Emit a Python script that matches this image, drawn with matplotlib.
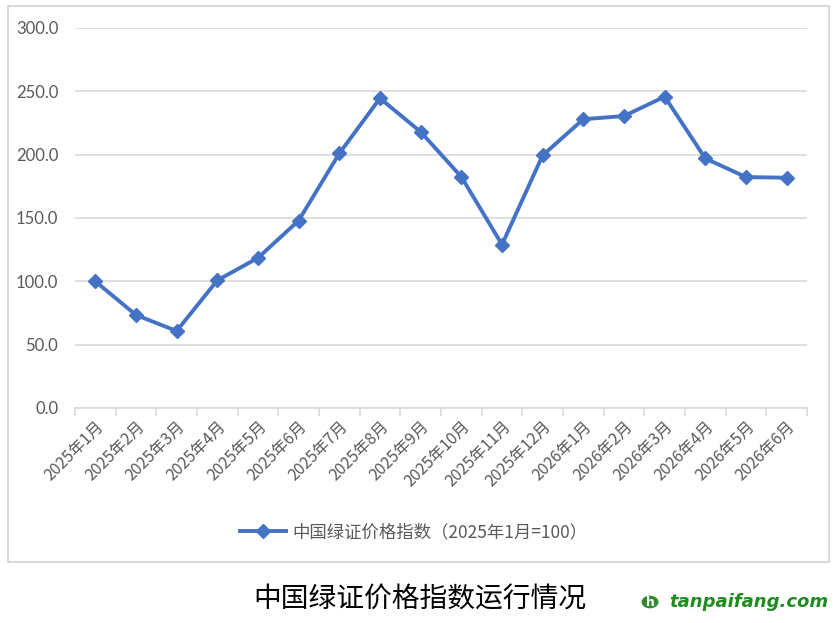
import matplotlib
matplotlib.use("Agg")
import matplotlib.pyplot as plt
from matplotlib.patches import Rectangle, Circle

plt.rcParams['font.family'] = ['Noto Sans CJK SC', 'DejaVu Sans']

months = ["2025年1月", "2025年2月", "2025年3月", "2025年4月", "2025年5月", "2025年6月",
          "2025年7月", "2025年8月", "2025年9月", "2025年10月", "2025年11月", "2025年12月",
          "2026年1月", "2026年2月", "2026年3月", "2026年4月", "2026年5月", "2026年6月"]
index_values = [100.0, 73.4, 60.8, 100.8, 118.5, 148.0, 201.0, 244.5, 218.0, 182.5,
                129.0, 199.5, 228.0, 230.5, 245.8, 197.0, 182.3, 181.8]
series_label = "中国绿证价格指数（2025年1月=100）"
y_ticks = [0, 50, 100, 150, 200, 250, 300]
title = "中国绿证价格指数运行情况"
watermark = "tanpaifang.com"

W, H = 837, 623
fig = plt.figure(figsize=(W / 100, H / 100), dpi=100)

# outer chart border
fig.patches.append(Rectangle((8 / W, 1 - 562 / H), 821 / W, 556 / H, transform=fig.transFigure,
                             fill=False, edgecolor='#D9D9D9', linewidth=1.5))

ax = fig.add_axes([75 / W, 1 - 408 / H, 732 / W, 380 / H])
x = list(range(len(months)))
ax.plot(x, index_values, color='#4472C4', linewidth=2.8, marker='D', markersize=7,
        markerfacecolor='#4472C4', markeredgecolor='#4472C4', label=series_label, zorder=3)

ax.set_xlim(-0.5, len(months) - 0.5)
ax.set_ylim(0, 300)
ax.set_yticks(y_ticks)
ax.set_yticklabels([f"{v:.1f}" for v in y_ticks], fontsize=12, color='#595959',
                   family=['Lato', 'DejaVu Sans'])
ax.tick_params(axis='y', length=0, pad=12)
ax.yaxis.grid(True, color='#D9D9D9', linewidth=1.2)
ax.set_axisbelow(True)
for s in ['top', 'right', 'left']:
    ax.spines[s].set_visible(False)
ax.spines['bottom'].set_color('#D9D9D9')
ax.spines['bottom'].set_linewidth(1.2)

ax.set_xticks(x)
ax.set_xticklabels(months, rotation=45, ha='right', rotation_mode='anchor',
                   fontsize=11.5, color='#595959')
ax.tick_params(axis='x', which='major', length=0, pad=7)
ax.set_xticks([i - 0.5 for i in range(len(months) + 1)], minor=True)
ax.tick_params(axis='x', which='minor', length=6, color='#D9D9D9', width=1.2)

leg = fig.legend(loc='center', bbox_to_anchor=(414 / W, 1 - 532 / H), frameon=False,
                 fontsize=12.5, handlelength=2.6, handletextpad=0.4, labelcolor='#595959')

fig.text(420 / W, 1 - 600 / H, title, ha='center', va='center', fontsize=20,
         color='black', fontweight='medium')

# watermark
fig.patches.append(Circle((650 / W, 1 - 602 / H), 8.5 / W, transform=fig.transFigure,
                          facecolor='#2E8B2E', edgecolor='none'))
fig.text(650 / W, 1 - 602 / H, "h", ha='center', va='center', fontsize=9, color='white',
         fontweight='bold', family=['DejaVu Sans'])
fig.text(669 / W, 1 - 602 / H, watermark, ha='left', va='center', fontsize=13,
         color='#1E8C1E', fontweight='bold', fontstyle='italic', family=['DejaVu Sans'])

fig.savefig("out.png", dpi=100)
